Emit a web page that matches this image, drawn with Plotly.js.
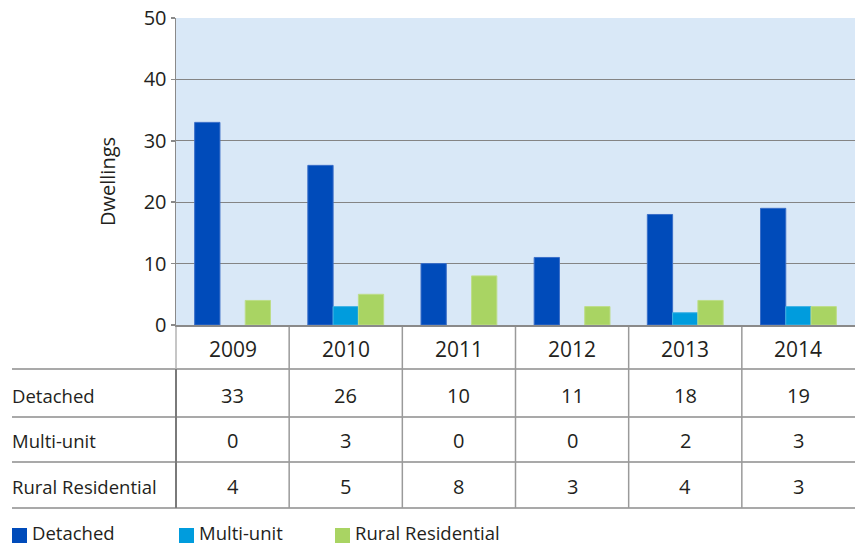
<!DOCTYPE html>
<html><head><meta charset="utf-8">
<script src="https://cdn.plot.ly/plotly-3.0.1.min.js"></script>
<style>html,body{margin:0;padding:0;background:#fff}</style>
</head><body><div id="chart" style="width:858px;height:545px"></div>
<script>
const years = ['2009','2010','2011','2012','2013','2014'];
const seriesNames = ['Detached','Multi-unit','Rural Residential'];
const detached = [33,26,10,11,18,19];
const multiUnit = [0,3,0,0,2,3];
const ruralResidential = [4,5,8,3,4,3];
const yTicks = [0,10,20,30,40,50];
const yTitle = 'Dwellings';

const seriesValues = [detached, multiUnit, ruralResidential];
const colors = ['#004BBA','#009CDD','#A9D463'];
const edges = ['#3A6EC8','#3FB2E5','#BDDD89'];
const FONT = 'Open Sans, sans-serif';
const TXT = '#231F20';

const W = 858, H = 545, ML = 176, MR = 3, MT = 18, MB = 220;
const PW = W - ML - MR, PH = H - MT - MB;
const px = p => (p - ML) / PW;
const py = p => (H - MB - p) / PH;

const traces = seriesNames.map((n, i) => ({
  type: 'bar', name: n, x: years, y: seriesValues[i],
  marker: {color: colors[i], line: {color: edges[i], width: seriesValues[i].map(v => v > 0 ? 1 : 0)}},
  hoverinfo: 'x+y+name'
}));

const shapes = [];
const annotations = [];
const lineCol = '#8c8c8c';
// horizontal table lines
[369, 417, 462, 508].forEach(yv => shapes.push({type:'line', xref:'paper', yref:'paper',
  x0: px(12), x1: 1, y0: py(yv), y1: py(yv), line:{color: lineCol, width:1.5}}));
// vertical table lines (category boundaries)
for (let k = 0; k < years.length; k++) {
  const xb = k / years.length;
  shapes.push({type:'line', xref:'paper', yref:'paper', x0: xb, x1: xb, y0: py(327), y1: py(369),
    line:{color: k === 0 ? '#b3b3b3' : '#9a9a9a', width:1.5}});
  shapes.push({type:'line', xref:'paper', yref:'paper', x0: xb, x1: xb, y0: py(369), y1: py(508),
    line:{color: k === 0 ? '#7a7a7a' : '#9a9a9a', width: k === 0 ? 2 : 1.5}});
}
// header years (x = category index on the category axis)
years.forEach((yr, j) => annotations.push({xref:'x', yref:'paper', x: j, y: py(349),
  text: yr, showarrow:false, font:{family:FONT, size:21, color:TXT}, xanchor:'center', yanchor:'middle'}));
// rows
const rowCenters = [395, 440, 486];
seriesNames.forEach((n, i) => {
  annotations.push({xref:'paper', yref:'paper', x: px(10), y: py(rowCenters[i]), text: n,
    showarrow:false, font:{family:FONT, size:18.5, color:TXT}, xanchor:'left', yanchor:'middle'});
  seriesValues[i].forEach((v, j) => annotations.push({xref:'x', yref:'paper', x: j, y: py(rowCenters[i]),
    text: String(v), showarrow:false, font:{family:FONT, size:20, color:TXT}, xanchor:'center', yanchor:'middle'}));
});
// legend
const legX = [12, 179, 335];
seriesNames.forEach((n, i) => {
  shapes.push({type:'rect', xref:'paper', yref:'paper', x0: px(legX[i]), x1: px(legX[i] + 15),
    y0: py(543), y1: py(528), fillcolor: colors[i], line:{width:0}});
  annotations.push({xref:'paper', yref:'paper', x: px(legX[i] + 19), y: py(532), text: n,
    showarrow:false, font:{family:FONT, size:18.5, color:TXT}, xanchor:'left', yanchor:'middle', borderpad:0});
});
// y axis title
annotations.push({xref:'paper', yref:'paper', x: px(107), y: py(182), text: yTitle, textangle:-90,
  showarrow:false, font:{family:FONT, size:20, color:TXT}, xanchor:'center', yanchor:'middle'});

const layout = {
  width: W, height: H,
  margin: {l: ML, r: MR, t: MT, b: MB, pad: 0},
  paper_bgcolor: '#ffffff', plot_bgcolor: '#D9E8F7',
  showlegend: false,
  bargap: 0.33, bargroupgap: 0, barmode: 'group',
  font: {family: FONT, color: TXT},
  xaxis: {type:'category', categoryarray: years, range:[-0.5, years.length - 0.5], autorange:false,
    showticklabels:false, ticks:'', showgrid:false, zeroline:false,
    showline:true, linecolor:'#8a8a8a', linewidth:2, fixedrange:true},
  yaxis: {range:[0,50], autorange:false, tickvals: yTicks, ticks:'outside', ticklen:4, tickcolor:'#8a8a8a', tickwidth:1.5,
    showline:true, linecolor:'#8a8a8a', linewidth:1.5, gridcolor:'#848484', gridwidth:1.2, zeroline:false,
    tickfont:{family:FONT, size:20, color:TXT}, fixedrange:true},
  shapes: shapes,
  annotations: annotations
};

Plotly.newPlot('chart', traces, layout, {displayModeBar:false, staticPlot:true});
</script></body></html>
